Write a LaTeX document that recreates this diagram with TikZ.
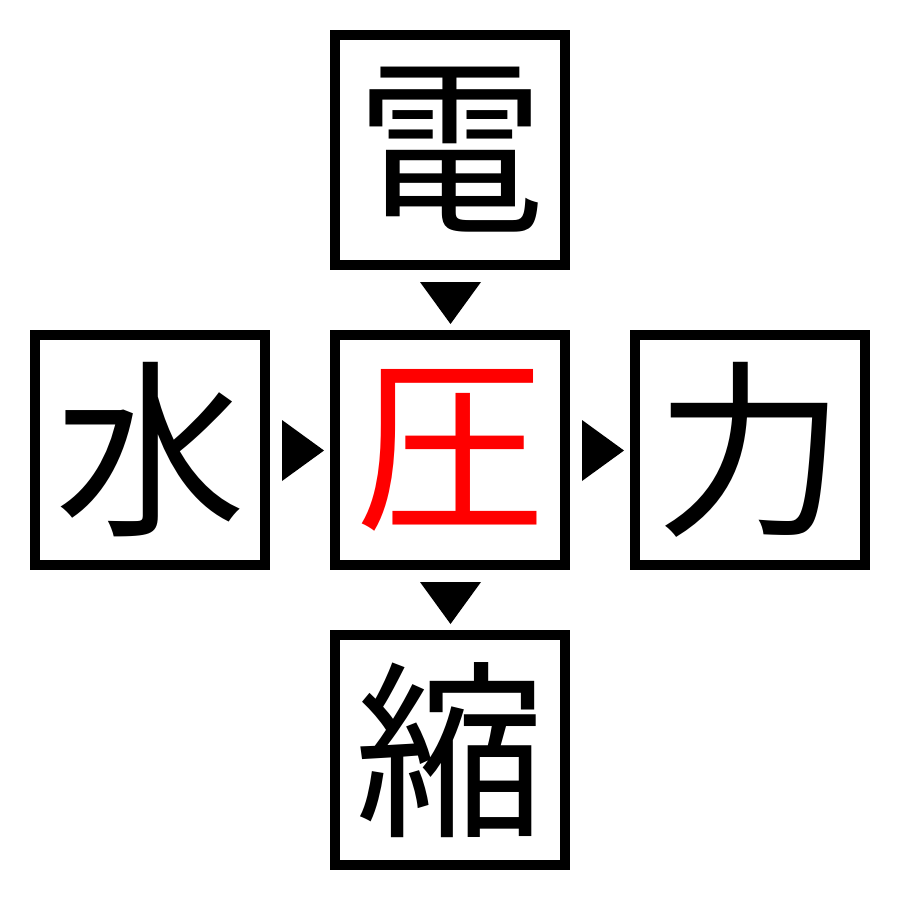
\documentclass[tikz,border=0pt]{standalone}
\usepackage{fontspec}
\newfontfamily\cjk{Noto Sans CJK JP}
\begin{document}
\begin{tikzpicture}[x=1pt,y=-1pt,
  box/.style={draw=black,line width=10pt,minimum size=230pt,inner sep=0pt,outer sep=0pt,
    font=\cjk\fontsize{190}{190}\selectfont},
  tri/.style={fill=black,draw=none}]
\useasboundingbox (0,0) rectangle (900,900);
\node[box] (top) at (450,150) {電};
\node[box] (left) at (150,450) {水};
\node[box,text=red] (mid) at (450,450) {圧};
\node[box] (right) at (750,450) {力};
\node[box] (bot) at (450,750) {縮};
\fill[tri] (420,282) -- (481,282) -- (450.5,324) -- cycle;
\fill[tri] (420,582) -- (481,582) -- (450.5,624) -- cycle;
\fill[tri] (282,420) -- (282,481) -- (324,450.5) -- cycle;
\fill[tri] (582,420) -- (582,481) -- (624,450.5) -- cycle;
\end{tikzpicture}
\end{document}
